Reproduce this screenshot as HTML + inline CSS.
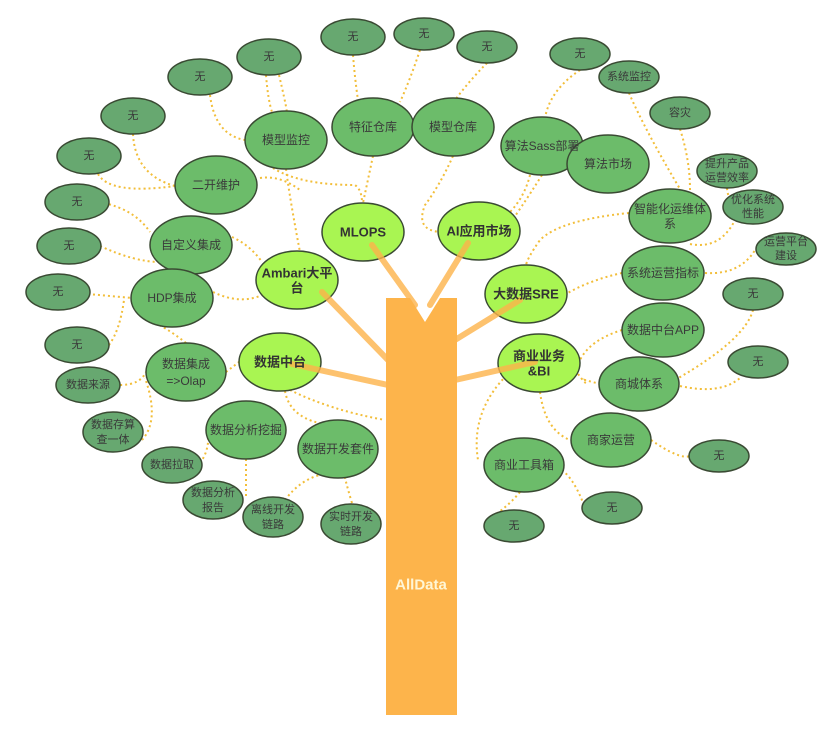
<!DOCTYPE html>
<html><head><meta charset="utf-8"><style>
html,body{margin:0;padding:0;background:#fff;}
svg{display:block}
text{font-family:"Liberation Sans","Noto Sans CJK SC",sans-serif;text-anchor:middle;dominant-baseline:central}
.m{fill:#a9f552;stroke:#3a4a33;stroke-width:1.5}
.g{fill:#6cbc6a;stroke:#3a4a33;stroke-width:1.5}
.d{fill:#67a870;stroke:#3a4a33;stroke-width:1.5}
.c{fill:none;stroke:#f2be3a;stroke-width:2;stroke-dasharray:2 3}
.b{stroke:#fdb44b;stroke-width:6;opacity:.8;stroke-linecap:round}
.t1{font-size:13px;font-weight:bold;fill:#333}
.t2{font-size:12px;fill:#3a3a3a}
.t3{font-size:11px;fill:#3a3a3a}
</style></head><body>
<svg width="839" height="747" viewBox="0 0 839 747">
<g class="c">
<path d="M210,95 Q215,135 245,140"/>
<path d="M266,75 Q268,100 272,112"/>
<path d="M279,75 Q285,100 287,112"/>
<path d="M353,55 Q355,80 358,100"/>
<path d="M487,63 Q470,80 455,100"/>
<path d="M420,50 Q410,80 400,102"/>
<path d="M580,70 Q550,90 545,118"/>
<path d="M629,93 Q645,130 680,189"/>
<path d="M680,129 Q690,160 690,190"/>
<path d="M133,134 Q135,175 175,186"/>
<path d="M98,174 Q110,195 175,186"/>
<path d="M104,203 Q135,210 150,232"/>
<path d="M100,246 Q135,262 160,262"/>
<path d="M88,294 Q110,296 132,298"/>
<path d="M109,345 Q120,330 124,300"/>
<path d="M286,169 Q290,200 300,252"/>
<path d="M260,178 Q280,175 300,190"/>
<path d="M273,168 Q300,185 355,185 Q362,190 362,203"/>
<path d="M373,156 L363,203"/>
<path d="M453,156 Q440,185 425,205 Q415,230 440,232"/>
<path d="M232,237 Q250,245 262,262"/>
<path d="M213,292 Q240,305 262,295"/>
<path d="M530,175 Q520,215 480,232"/>
<path d="M542,175 Q520,210 505,230"/>
<path d="M629,213 Q560,220 540,240 Q526,260 526,266"/>
<path d="M622,273 Q590,280 566,294"/>
<path d="M690,244 Q720,250 735,220"/>
<path d="M705,273 Q740,275 755,250"/>
<path d="M727,188 Q728,200 735,205"/>
<path d="M753,310 Q745,340 675,380"/>
<path d="M622,330 Q590,340 580,360"/>
<path d="M680,386 Q720,395 740,378"/>
<path d="M575,370 Q590,390 585,380 L600,384"/>
<path d="M651,440 Q680,460 690,456"/>
<path d="M540,392 Q545,430 570,440"/>
<path d="M510,372 Q470,410 478,460"/>
<path d="M562,470 Q575,480 585,508"/>
<path d="M520,492 Q505,510 486,520"/>
<path d="M120,385 Q140,385 146,372"/>
<path d="M142,440 Q160,420 145,378"/>
<path d="M200,463 Q210,450 208,430"/>
<path d="M246,459 L246,496"/>
<path d="M285,500 Q300,480 320,475"/>
<path d="M352,503 Q348,490 345,478"/>
<path d="M226,372 L239,362"/>
<path d="M285,391 Q290,420 330,425"/>
<path d="M290,390 Q330,410 385,420"/>
<path d="M186,343 Q170,330 150,320"/>
</g>
<polygon points="386,298 410,298 425,322 440,298 457,298 457,715 386,715" fill="#fdb44b"/>
<text x="421" y="585" style="font-size:15px;font-weight:bold;fill:#fff6d5">AllData</text>
<g class="d">
<ellipse cx="200" cy="77" rx="32" ry="18"/><ellipse cx="269" cy="57" rx="32" ry="18"/>
<ellipse cx="353" cy="37" rx="32" ry="18"/><ellipse cx="424" cy="34" rx="30" ry="16"/>
<ellipse cx="487" cy="47" rx="30" ry="16"/><ellipse cx="580" cy="54" rx="30" ry="16"/>
<ellipse cx="629" cy="77" rx="30" ry="16"/><ellipse cx="680" cy="113" rx="30" ry="16"/>
<ellipse cx="727" cy="171" rx="30" ry="17"/><ellipse cx="753" cy="207" rx="30" ry="17"/>
<ellipse cx="786" cy="249" rx="30" ry="16"/><ellipse cx="753" cy="294" rx="30" ry="16"/>
<ellipse cx="758" cy="362" rx="30" ry="16"/><ellipse cx="719" cy="456" rx="30" ry="16"/>
<ellipse cx="612" cy="508" rx="30" ry="16"/><ellipse cx="514" cy="526" rx="30" ry="16"/>
<ellipse cx="133" cy="116" rx="32" ry="18"/><ellipse cx="89" cy="156" rx="32" ry="18"/>
<ellipse cx="77" cy="202" rx="32" ry="18"/><ellipse cx="69" cy="246" rx="32" ry="18"/>
<ellipse cx="58" cy="292" rx="32" ry="18"/><ellipse cx="77" cy="345" rx="32" ry="18"/>
<ellipse cx="88" cy="385" rx="32" ry="18"/><ellipse cx="113" cy="432" rx="30" ry="20"/>
<ellipse cx="172" cy="465" rx="30" ry="18"/><ellipse cx="213" cy="500" rx="30" ry="19"/>
<ellipse cx="273" cy="517" rx="30" ry="20"/><ellipse cx="351" cy="524" rx="30" ry="20"/>
</g>
<g class="g">
<ellipse cx="286" cy="140" rx="41" ry="29"/><ellipse cx="373" cy="127" rx="41" ry="29"/>
<ellipse cx="453" cy="127" rx="41" ry="29"/><ellipse cx="542" cy="146" rx="41" ry="29"/>
<ellipse cx="608" cy="164" rx="41" ry="29"/><ellipse cx="216" cy="185" rx="41" ry="29"/>
<ellipse cx="191" cy="245" rx="41" ry="29"/><ellipse cx="172" cy="298" rx="41" ry="29"/>
<ellipse cx="670" cy="216" rx="41" ry="27"/><ellipse cx="663" cy="273" rx="41" ry="27"/>
<ellipse cx="663" cy="330" rx="41" ry="27"/><ellipse cx="639" cy="384" rx="40" ry="27"/>
<ellipse cx="611" cy="440" rx="40" ry="27"/><ellipse cx="524" cy="465" rx="40" ry="27"/>
<ellipse cx="186" cy="372" rx="40" ry="29"/><ellipse cx="246" cy="430" rx="40" ry="29"/>
<ellipse cx="338" cy="449" rx="40" ry="29"/>
</g>
<g class="m">
<ellipse cx="363" cy="232" rx="41" ry="29"/><ellipse cx="479" cy="231" rx="41" ry="29"/>
<ellipse cx="297" cy="280" rx="41" ry="29"/><ellipse cx="280" cy="362" rx="41" ry="29"/>
<ellipse cx="526" cy="294" rx="41" ry="29"/><ellipse cx="539" cy="363" rx="41" ry="29"/>
</g>
<line class="b" x1="415" y1="305" x2="372" y2="245"/>
<line class="b" x1="430" y1="305" x2="468" y2="243"/>
<line class="b" x1="388" y1="360" x2="322" y2="292"/>
<line class="b" x1="388" y1="385" x2="292" y2="364"/>
<line class="b" x1="455" y1="340" x2="520" y2="300"/>
<line class="b" x1="455" y1="380" x2="535" y2="362"/>
<g class="t1">
<text x="363" y="232">MLOPS</text><text x="479" y="231">AI应用市场</text>
<text x="297" y="273">Ambari大平</text><text x="297" y="288">台</text>
<text x="280" y="362">数据中台</text><text x="526" y="294">大数据SRE</text>
<text x="539" y="356">商业业务</text><text x="539" y="371">&amp;BI</text>
</g>
<g class="t2">
<text x="286" y="140">模型监控</text><text x="373" y="127">特征仓库</text>
<text x="453" y="127">模型仓库</text><text x="542" y="146">算法Sass部署</text>
<text x="608" y="164">算法市场</text><text x="216" y="185">二开维护</text>
<text x="191" y="245">自定义集成</text><text x="172" y="298">HDP集成</text>
<text x="670" y="209">智能化运维体</text><text x="670" y="224">系</text>
<text x="663" y="273">系统运营指标</text><text x="663" y="330">数据中台APP</text>
<text x="639" y="384">商城体系</text><text x="611" y="440">商家运营</text>
<text x="524" y="465">商业工具箱</text>
<text x="186" y="364">数据集成</text><text x="186" y="381">=&gt;Olap</text>
<text x="246" y="430">数据分析挖掘</text><text x="338" y="449">数据开发套件</text>
</g>
<g class="t3">
<text x="200" y="77">无</text><text x="269" y="57">无</text><text x="353" y="37">无</text>
<text x="424" y="34">无</text><text x="487" y="47">无</text><text x="580" y="54">无</text>
<text x="629" y="77">系统监控</text><text x="680" y="113">容灾</text>
<text x="727" y="164">提升产品</text><text x="727" y="178">运营效率</text>
<text x="753" y="200">优化系统</text><text x="753" y="214">性能</text>
<text x="786" y="242">运营平台</text><text x="786" y="256">建设</text>
<text x="753" y="294">无</text><text x="758" y="362">无</text><text x="719" y="456">无</text>
<text x="612" y="508">无</text><text x="514" y="526">无</text>
<text x="133" y="116">无</text><text x="89" y="156">无</text><text x="77" y="202">无</text>
<text x="69" y="246">无</text><text x="58" y="292">无</text><text x="77" y="345">无</text>
<text x="88" y="385">数据来源</text>
<text x="113" y="425">数据存算</text><text x="113" y="440">查一体</text>
<text x="172" y="465">数据拉取</text>
<text x="213" y="493">数据分析</text><text x="213" y="508">报告</text>
<text x="273" y="510">离线开发</text><text x="273" y="525">链路</text>
<text x="351" y="517">实时开发</text><text x="351" y="532">链路</text>
</g>
</svg>
</body></html>
